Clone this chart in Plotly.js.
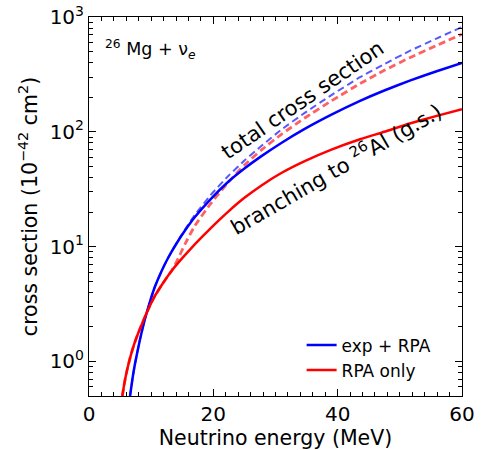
<!DOCTYPE html>
<html>
<head>
<meta charset="utf-8">
<script src="https://cdn.plot.ly/plotly-3.0.1.min.js"></script>
<style>html,body{margin:0;padding:0;background:#fff;}#chart{width:482px;height:450px;}</style>
</head>
<body>
<div id="chart"></div>
<script>
// exp + RPA, branching to 26Al g.s. (solid blue)
const eBlue = [6.6, 7.0, 7.4, 8.2, 9.0, 9.8, 10.6, 11.7, 12.76, 14.1, 15.44, 17, 19.5, 22.4, 25, 27.8, 31, 34.7, 39, 43.6, 47.5, 51.6, 55.8, 60];
const sBlue = [0.5, 0.71, 0.955, 1.55, 2.34, 3.31, 4.47, 6.17, 8.04, 10.7, 13.8, 18.0, 25.7, 36.7, 47.9, 61.7, 80.4, 106, 141, 186, 229, 279, 335, 398];
// exp + RPA, total (dashed blue)
const eBlueTot = [6.6, 7.0, 7.4, 8.2, 9.0, 9.8, 10.6, 11.7, 12.76, 14.1, 15.44, 17, 19.5, 22.4, 25, 27.8, 31, 34.7, 39, 43.6, 47.5, 51.6, 55.8, 60];
const sBlueTot = [0.5, 0.71, 0.955, 1.55, 2.34, 3.31, 4.47, 6.17, 8.04, 10.8, 14.1, 18.8, 27.9, 41.2, 56.2, 75.9, 105, 146, 209, 299, 389, 507, 646, 818];
// RPA only, branching to 26Al g.s. (solid red)
const eRed = [5.36, 5.7, 6.1, 6.6, 7.2, 7.8, 8.47, 9.5, 10.6, 12, 13.3, 15, 16.5, 18.66, 20.5, 22.4, 25, 27.8, 31, 34.7, 39, 43.6, 47.5, 51.6, 55.8, 60];
const sRed = [0.5, 0.65, 0.83, 1.07, 1.38, 1.70, 2.09, 2.82, 3.72, 4.90, 6.17, 7.94, 9.77, 12.9, 16.2, 20.2, 26.6, 34.3, 44.0, 55.6, 70.0, 86.1, 100, 118, 137, 157];
// RPA only, total (dashed red)
const eRedTot = [5.36, 5.7, 6.1, 6.6, 7.2, 7.8, 8.47, 9.5, 10.6, 12, 13.3, 14.1, 15.44, 17, 19.5, 22.4, 25, 27.8, 31, 34.7, 39, 43.6, 47.5, 51.6, 55.8, 60];
const sRedTot = [0.5, 0.65, 0.83, 1.07, 1.38, 1.70, 2.09, 2.82, 3.72, 4.90, 6.17, 7.41, 10.5, 15.1, 23.4, 36.3, 51.3, 70.0, 95.5, 132, 186, 263, 343, 442, 562, 708];

const yTickVals = [1, 10, 100, 1000];
const yTickText = ['10<sup>0</sup>', '10<sup>1</sup>', '10<sup>2</sup>', '10<sup>3</sup>'];
const xTickVals = [0, 20, 40, 60];
const legendNames = ['exp + RPA', 'RPA only'];

const yMinor = [];
[0.1, 1, 10, 100].forEach(d => { for (let k = 2; k <= 9; k++) { const v = k * d; if (v >= 0.5 && v < 1000) yMinor.push(v); } });
const xMinor = [];
for (let v = 2; v < 60; v += 2) { if (v % 20 !== 0) xMinor.push(v); }

const font = 'DejaVu Sans, sans-serif';
const xRange = [0, 60];
const yRange = [Math.log10(0.5), 3];
const MAJOR = 7, MINOR = 4;

const traces = [
  {x: eBlueTot, y: sBlueTot, mode: 'lines', line: {color: 'rgba(70,70,255,0.9)', width: 2, dash: '7px,4px', shape: 'spline', smoothing: 0.5}, showlegend: false},
  {x: eRedTot, y: sRedTot, mode: 'lines', line: {color: 'rgba(255,80,80,0.9)', width: 2.8, dash: '7px,4px', shape: 'spline', smoothing: 0.5}, showlegend: false},
  {x: eBlue, y: sBlue, mode: 'lines', name: legendNames[0], line: {color: '#0000ff', width: 2.5, shape: 'spline', smoothing: 0.5}},
  {x: eRed, y: sRed, mode: 'lines', name: legendNames[1], line: {color: '#ff0000', width: 2.5, shape: 'spline', smoothing: 0.5}}
];

const layout = {
  width: 482, height: 450,
  margin: {l: 89, r: 20, t: 17, b: 54},
  paper_bgcolor: '#fff', plot_bgcolor: '#fff',
  font: {family: font, color: '#000', size: 20},
  showlegend: true,
  legend: {x: 0.57, y: 0.02, xanchor: 'left', yanchor: 'bottom', bgcolor: 'rgba(0,0,0,0)', font: {size: 17, family: font}, tracegroupgap: 0},
  xaxis: {
    range: xRange, tickmode: 'array', tickvals: xTickVals, ticks: 'inside', ticklen: MAJOR, tickwidth: 1, tickcolor: '#000',
    minor: {tickmode: 'array', tickvals: xMinor, ticks: 'inside', ticklen: MINOR, tickwidth: 1, tickcolor: '#000', showgrid: false},
    showline: true, linecolor: '#000', linewidth: 1, mirror: 'ticks', showgrid: false, zeroline: false,
    tickfont: {size: 20, family: font},
    title: {text: 'Neutrino energy (MeV)', font: {size: 20.5, family: font}, standoff: 4}
  },
  yaxis: {
    type: 'log', range: yRange, tickmode: 'array', tickvals: yTickVals, ticktext: yTickText, ticks: 'inside', ticklen: MAJOR, tickwidth: 1, tickcolor: '#000',
    minor: {tickmode: 'array', tickvals: yMinor, ticks: 'inside', ticklen: MINOR, tickwidth: 1, tickcolor: '#000', showgrid: false},
    showline: true, linecolor: '#000', linewidth: 1, mirror: 'ticks', showgrid: false, zeroline: false,
    tickfont: {size: 20, family: font},
    title: {text: 'cross section (10<sup>−42</sup> cm<sup>2</sup>)', font: {size: 20.5, family: font}, standoff: 6}
  },
  annotations: [
    {xref: 'paper', yref: 'paper', x: 0.037, y: 0.913, xanchor: 'left', yanchor: 'middle', showarrow: false,
     text: '<sup>26</sup> Mg + ν<sub><i>e</i></sub>', font: {size: 17.5, family: font}},
    {x: 34.4, y: Math.log10(189), xanchor: 'center', yanchor: 'middle', showarrow: false, textangle: -34.5,
     text: 'total cross section', font: {size: 21, family: font}},
    {x: 39.7, y: Math.log10(48), xanchor: 'center', yanchor: 'middle', showarrow: false, textangle: -30,
     text: 'branching to <sup>26</sup>Al (g.s.)', font: {size: 21, family: font}}
  ]
};

Plotly.newPlot('chart', traces, layout, {displayModeBar: false, staticPlot: true});
</script>
</body>
</html>
